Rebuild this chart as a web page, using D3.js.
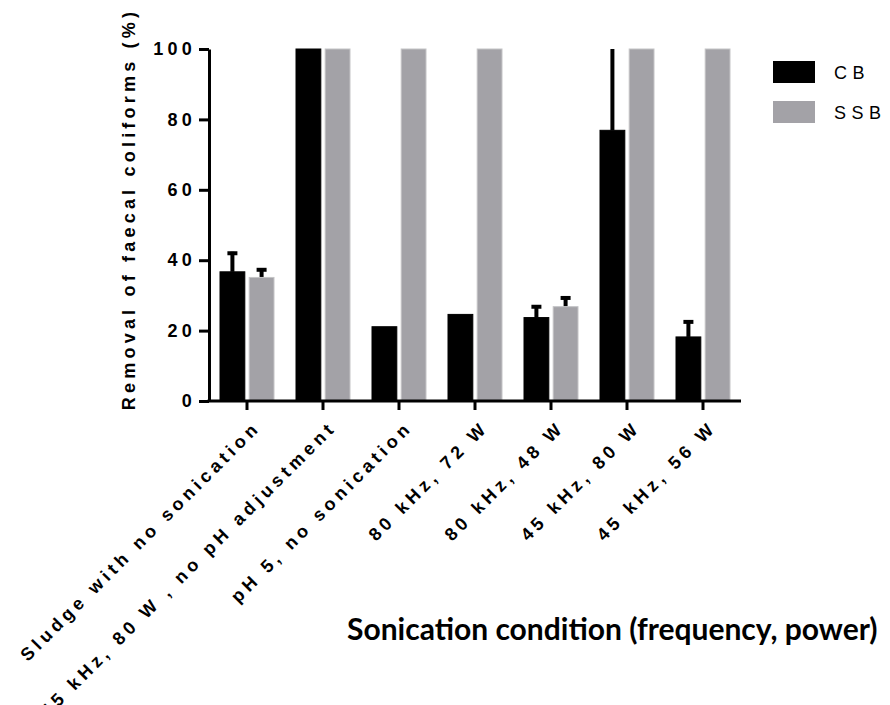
<!DOCTYPE html>
<html>
<head>
<meta charset="utf-8">
<script src="https://cdn.jsdelivr.net/npm/d3@7"></script>
<style>
  body { margin: 0; background: #fff; }
  svg { display: block; }
  .axis path, .axis line { stroke: #000; stroke-width: 3; }
  .axis text { font-family: "Liberation Sans", Arial, sans-serif; font-weight: bold; fill: #000; }
</style>
</head>
<body>
<svg id="chart" width="890" height="705"></svg>
<script>
// data
const categories = [
    "Sludge with no sonication",
    "45 kHz, 80 W , no pH adjustment",
    "pH 5, no sonication",
    "80 kHz, 72 W",
    "80 kHz, 48 W",
    "45 kHz, 80 W",
    "45 kHz, 56 W"
]
const seriesNames = ["CB", "SSB"]
const cbValues = [36.7, 100, 21.1, 24.6, 23.7, 76.9, 18.2]
const cbErrors = [5.7, 0, 0, 0, 3.5, 30, 4.7]
const ssbValues = [35.1, 100, 100, 100, 26.8, 100, 100]
const ssbErrors = [2.6, 0, 0, 0, 2.9, 0, 0]
const yTicks = [0, 20, 40, 60, 80, 100]
const colors = { CB: "#000000", SSB: "#a3a2a7" }

const svg = d3.select("#chart")

const x = d3.scaleBand().domain(categories).range([209, 741])
const xs = d3.scaleBand().domain(seriesNames).range([11, 65]).paddingInner(0.15)
const y = d3.scaleLinear().domain([0, 100]).range([401, 49]).clamp(true)

// rows for bars
const rows = []
categories.forEach((c, i) => {
    rows.push({ cat: c, s: "CB", v: cbValues[i], e: cbErrors[i] })
    rows.push({ cat: c, s: "SSB", v: ssbValues[i], e: ssbErrors[i] })
})

// error bars (drawn first, bar covers lower half)
const err = svg.append("g").selectAll("g")
    .data(rows.filter(d => d.e > 0))
    .join("g")
err.append("line")
    .attr("x1", d => x(d.cat) + xs(d.s) + xs.bandwidth() / 2)
    .attr("x2", d => x(d.cat) + xs(d.s) + xs.bandwidth() / 2)
    .attr("y1", d => y(d.v))
    .attr("y2", d => y(d.v + d.e))
    .attr("stroke", "#000")
    .attr("stroke-width", 4)
err.filter(d => d.v + d.e < 100).append("line")
    .attr("x1", d => x(d.cat) + xs(d.s) + xs.bandwidth() / 2 - 5)
    .attr("x2", d => x(d.cat) + xs(d.s) + xs.bandwidth() / 2 + 5)
    .attr("y1", d => y(d.v + d.e) + 1.5)
    .attr("y2", d => y(d.v + d.e) + 1.5)
    .attr("stroke", "#000")
    .attr("stroke-width", 4)

svg.append("g").selectAll("rect")
    .data(rows)
    .join("rect")
    .attr("x", d => x(d.cat) + xs(d.s))
    .attr("width", xs.bandwidth())
    .attr("y", d => y(d.v))
    .attr("height", d => y(0) - y(d.v))
    .attr("fill", d => colors[d.s])
    .attr("stroke", d => d.s == "SSB" ? "#c4c4c6" : "#000")
    .attr("stroke-width", 1)

// y axis
const yAxis = svg.append("g").attr("class", "axis")
    .attr("transform", "translate(209,0)")
    .call(d3.axisLeft(y).tickValues(yTicks).tickSize(10).tickSizeOuter(0).tickPadding(3))
yAxis.selectAll("text")
    .style("font-size", "18px")
    .style("letter-spacing", "4.2px")

// x axis
const xAxis = svg.append("g").attr("class", "axis")
    .attr("transform", `translate(0,${y(0)})`)
    .call(d3.axisBottom(x).tickSize(9).tickSizeOuter(0))
xAxis.select(".domain").attr("d", "M207.5,0H741")
xAxis.selectAll("text")
    .style("font-size", "18px")
    .style("letter-spacing", "4.3px")
    .attr("text-anchor", "end")
    .attr("x", 0)
    .attr("y", 0)
    .attr("dy", "0")
    .attr("transform", "translate(14.5,27.5) rotate(-45)")

// y title
svg.append("text")
    .attr("transform", "translate(135,209) rotate(-90)")
    .attr("text-anchor", "middle")
    .style("font-family", "'Liberation Sans', Arial, sans-serif")
    .style("font-weight", "bold")
    .style("font-size", "18px")
    .style("letter-spacing", "4.2px")
    .text("Removal of faecal coliforms (%)")

// x title
svg.append("text")
    .attr("x", 347)
    .attr("y", 640)
    .style("font-family", "Lato, sans-serif")
    .style("font-weight", "bold")
    .style("font-size", "30px")
    .text("Sonication condition (frequency, power)")

// legend
const legend = svg.append("g").selectAll("g")
    .data(seriesNames)
    .join("g")
    .attr("transform", (d, i) => `translate(773,${61 + i * 40})`)
legend.append("rect")
    .attr("width", 42)
    .attr("height", 22)
    .attr("fill", d => colors[d])
legend.append("text")
    .attr("x", 61)
    .attr("y", 18)
    .style("font-family", "'Liberation Sans', Arial, sans-serif")
    .style("font-size", "18px")
    .style("letter-spacing", "5.5px")
    .text(d => d)
</script>
</body>
</html>
